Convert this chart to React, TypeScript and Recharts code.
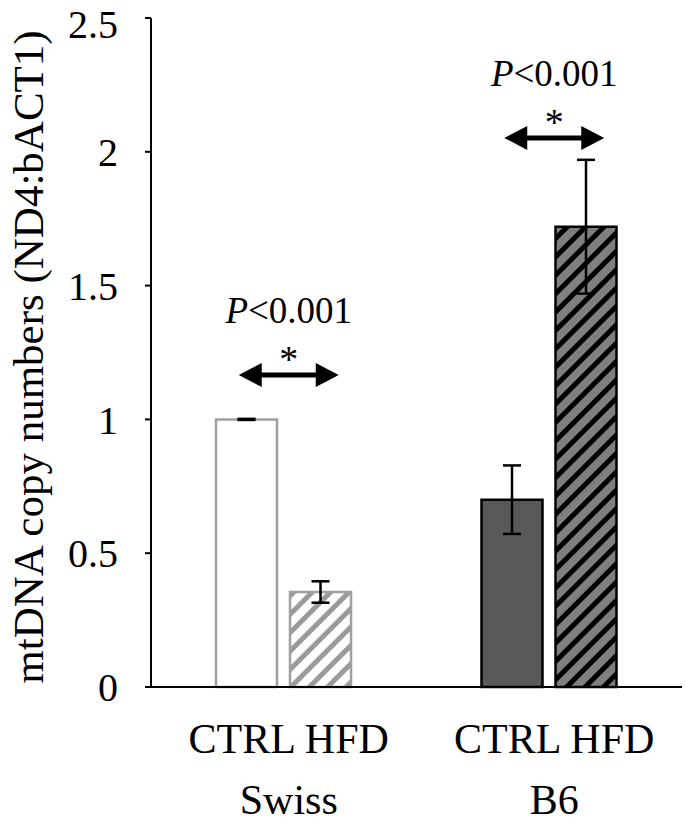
import React from 'react';
import { BarChart, Bar, XAxis, YAxis, ErrorBar, Cell, ReferenceDot } from 'recharts';

const groups = ['Swiss', 'B6'];
const dietLabel = 'CTRL HFD';
const ctrlValues = [1.0, 0.7];
const ctrlErrors = [0.002, 0.128];
const hfdValues = [0.355, 1.72];
const hfdErrors = [0.04, 0.25];
const yTicks = [0, 0.5, 1, 1.5, 2, 2.5];
const annotationY = [1.166, 2.052];
const pValueText = ['P', '<0.001'];
const yLabel = 'mtDNA copy numbers (ND4:bACT1)';

const data = groups.map((g, i) => ({
  group: g,
  ctrl: ctrlValues[i],
  ctrlErr: ctrlErrors[i],
  hfd: hfdValues[i],
  hfdErr: hfdErrors[i],
}));

const FONT = '"Liberation Serif", "Times New Roman", serif';

const ctrlFills = ['#ffffff', '#595959'];
const ctrlStrokes = ['#a0a0a0', '#000000'];
const hfdFills = ['url(#hatchLight)', 'url(#hatchDark)'];
const hfdStrokes = ['#a0a0a0', '#000000'];

const XTick = (props: any) => {
  const { x, y, payload } = props;
  return (
    <g>
      <text x={x + 5} y={y + 58} textAnchor="middle" fontFamily={FONT} fontSize={42} fill="#000">
        {dietLabel}
      </text>
      <text x={x + 5} y={y + 119} textAnchor="middle" fontFamily={FONT} fontSize={42} fill="#000">
        {payload.value}
      </text>
    </g>
  );
};

const Annotation = (props: any) => {
  const { cx, cy } = props;
  if (cx == null || cy == null) return null;
  const c = cx + 5;
  const L = 50;
  const H = 23;
  const hh = 12;
  const t = 2.5;
  const pts = [
    [c - L, cy],
    [c - L + H, cy - hh],
    [c - L + H, cy - t],
    [c + L - H, cy - t],
    [c + L - H, cy - hh],
    [c + L, cy],
    [c + L - H, cy + hh],
    [c + L - H, cy + t],
    [c - L + H, cy + t],
    [c - L + H, cy + hh],
  ]
    .map((p) => p.join(','))
    .join(' ');
  return (
    <g>
      <text x={c} y={cy - 52} textAnchor="middle" fontFamily={FONT} fontSize={37} fill="#000">
        <tspan fontStyle="italic">{pValueText[0]}</tspan>
        <tspan>{pValueText[1]}</tspan>
      </text>
      <text x={c} y={cy - 3} textAnchor="middle" fontFamily={FONT} fontSize={38} fill="#000">
        *
      </text>
      <polygon points={pts} fill="#000" />
    </g>
  );
};

export default function App() {
  return (
    <div style={{ position: 'absolute', left: 0, top: 0, width: 685, height: 823, background: '#fff' }}>
      <svg width={0} height={0} style={{ position: 'absolute' }}>
        <defs>
          <pattern id="hatchLight" patternUnits="userSpaceOnUse" width={13} height={13} patternTransform="rotate(45)">
            <rect x={0} y={0} width={13} height={13} fill="#ffffff" />
            <rect x={0} y={0} width={5} height={13} fill="#9a9a9a" />
          </pattern>
          <pattern id="hatchDark" patternUnits="userSpaceOnUse" width={13} height={13} patternTransform="rotate(45)">
            <rect x={0} y={0} width={13} height={13} fill="#7f7f7f" />
            <rect x={0} y={0} width={5} height={13} fill="#000000" />
          </pattern>
        </defs>
      </svg>
      <BarChart
        width={685}
        height={823}
        data={data}
        margin={{ top: 18, right: 3, bottom: 0, left: 0 }}
        barSize={61}
        barGap={13}
      >
        <XAxis
          dataKey="group"
          axisLine={{ stroke: '#000', strokeWidth: 2 }}
          tickLine={false}
          height={136}
          interval={0}
          tick={<XTick />}
        />
        <YAxis
          width={151}
          domain={[0, 2.5]}
          ticks={yTicks}
          type="number"
          axisLine={{ stroke: '#000', strokeWidth: 2 }}
          tickLine={{ stroke: '#000', strokeWidth: 2 }}
          tickSize={6}
          tickMargin={27}
          tick={{ fontFamily: FONT, fontSize: 40, fill: '#000' }}
          label={{
            content: () => (
              <text
                x={28}
                y={357}
                transform="rotate(-90 28 357)"
                textAnchor="middle"
                dominantBaseline="central"
                fontFamily={FONT}
                fontSize={43}
                fill="#000"
              >
                {yLabel}
              </text>
            ),
          }}
        />
        <Bar dataKey="ctrl" isAnimationActive={false} strokeWidth={2.5}>
          {data.map((d, i) => (
            <Cell key={`c${i}`} fill={ctrlFills[i]} stroke={ctrlStrokes[i]} />
          ))}
          <ErrorBar dataKey="ctrlErr" width={9} stroke="#000" strokeWidth={2.5} direction="y" />
        </Bar>
        <Bar dataKey="hfd" isAnimationActive={false} strokeWidth={2.5}>
          {data.map((d, i) => (
            <Cell key={`h${i}`} fill={hfdFills[i]} stroke={hfdStrokes[i]} />
          ))}
          <ErrorBar dataKey="hfdErr" width={9} stroke="#000" strokeWidth={2.5} direction="y" />
        </Bar>
        {groups.map((g, i) => (
          <ReferenceDot
            key={`a${i}`}
            x={g}
            y={annotationY[i]}
            r={0}
            ifOverflow="visible"
            shape={<Annotation />}
          />
        ))}
      </BarChart>
    </div>
  );
}
